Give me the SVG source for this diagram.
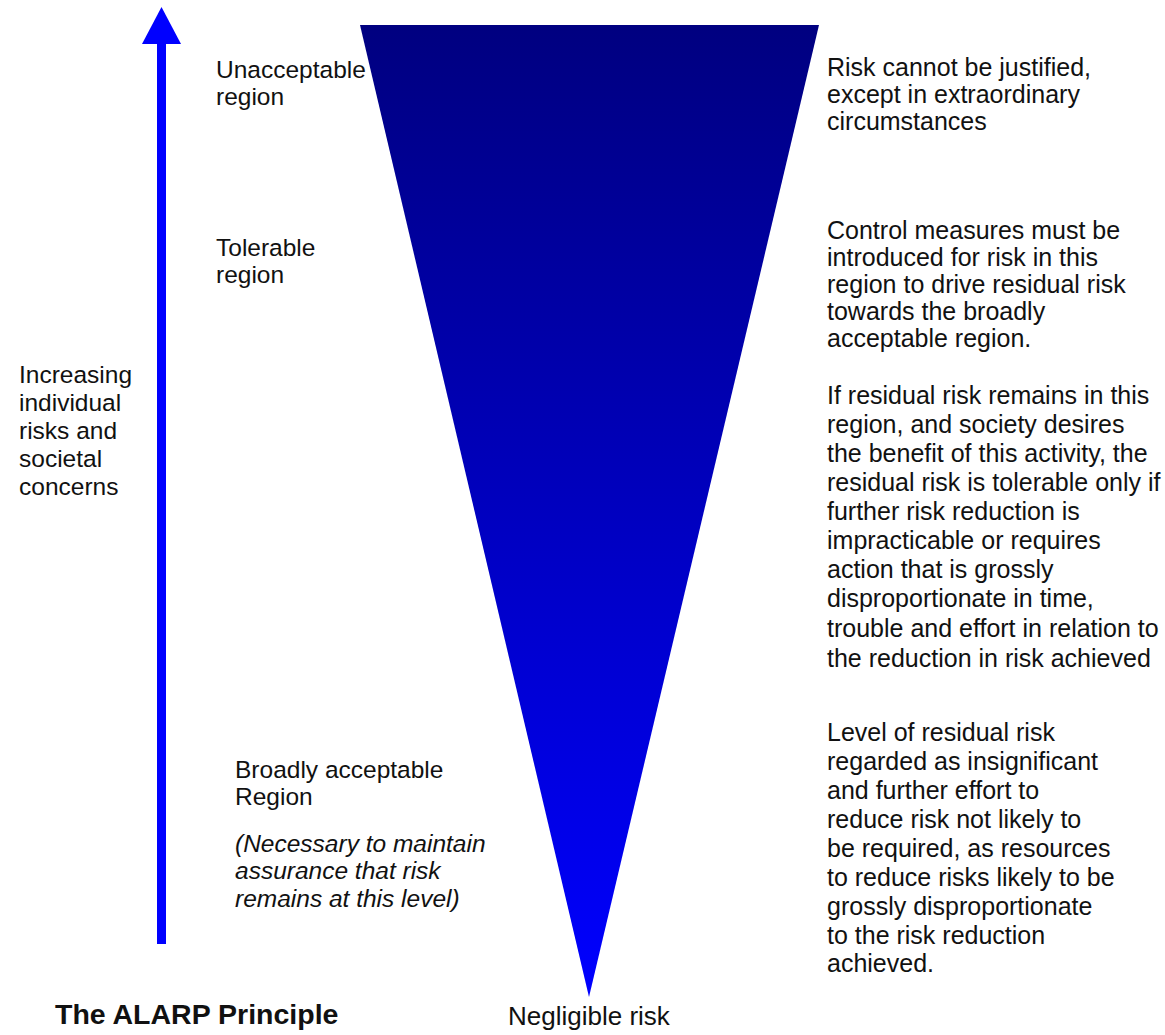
<svg xmlns="http://www.w3.org/2000/svg" width="1165" height="1035" viewBox="0 0 1165 1035">
  <style>
    text { font-family: "Liberation Sans", Arial, sans-serif; font-size: 24.5px; fill: #111; }
    .note { font-size: 25px; }
    .it { font-style: italic; }
    .foot { font-size: 26px; }
    .title { font-weight: bold; font-size: 28.5px; }
  </style>
  <defs>
    <linearGradient id="riskFill" x1="0" y1="0" x2="0" y2="1">
      <stop offset="0" stop-color="#000080"/>
      <stop offset="1" stop-color="#0000FF"/>
    </linearGradient>
  </defs>

  <!-- inverted risk triangle -->
  <g id="risk-triangle">
    <polygon points="360,25 819,25 589,997" fill="url(#riskFill)"/>
  </g>

  <!-- rising risk axis: shaft and head -->
  <g id="connectors">
    <rect x="157" y="42" width="9" height="902" fill="#0000FF"/>
    <polygon points="161.5,7 142,44 181,44" fill="#0000FF"/>
  </g>

  <g id="axis-label">
    <text x="19" y="383">Increasing</text>
    <text x="19" y="411">individual</text>
    <text x="19" y="439">risks and</text>
    <text x="19" y="467">societal</text>
    <text x="19" y="495">concerns</text>
  </g>

  <g id="unacceptable-label">
    <text x="216" y="78">Unacceptable</text>
    <text x="216" y="105">region</text>
  </g>

  <g id="tolerable-label">
    <text x="216" y="256">Tolerable</text>
    <text x="216" y="283">region</text>
  </g>

  <g id="broadly-label">
    <text x="235" y="778">Broadly acceptable</text>
    <text x="235" y="805">Region</text>
    <text class="it" x="235" y="852">(Necessary to maintain</text>
    <text class="it" x="235" y="879">assurance that risk</text>
    <text class="it" x="235" y="907">remains at this level)</text>
  </g>

  <g id="unacceptable-note" class="note">
    <text class="note" x="827" y="76">Risk cannot be justified,</text>
    <text class="note" x="827" y="103">except in extraordinary</text>
    <text class="note" x="827" y="130">circumstances</text>
  </g>

  <g id="tolerable-note">
    <text class="note" x="827" y="239">Control measures must be</text>
    <text class="note" x="827" y="266">introduced for risk in this</text>
    <text class="note" x="827" y="293">region to drive residual risk</text>
    <text class="note" x="827" y="320">towards the broadly</text>
    <text class="note" x="827" y="347">acceptable region.</text>
    <text class="note" x="827" y="404">If residual risk remains in this</text>
    <text class="note" x="827" y="433">region, and society desires</text>
    <text class="note" x="827" y="462">the benefit of this activity, the</text>
    <text class="note" x="827" y="491">residual risk is tolerable only if</text>
    <text class="note" x="827" y="520">further risk reduction is</text>
    <text class="note" x="827" y="549">impracticable or requires</text>
    <text class="note" x="827" y="578">action that is grossly</text>
    <text class="note" x="827" y="607">disproportionate in time,</text>
    <text class="note" x="827" y="637">trouble and effort in relation to</text>
    <text class="note" x="827" y="667">the reduction in risk achieved</text>
  </g>

  <g id="broadly-note">
    <text class="note" x="827" y="741">Level of residual risk</text>
    <text class="note" x="827" y="770">regarded as insignificant</text>
    <text class="note" x="827" y="799">and further effort to</text>
    <text class="note" x="827" y="828">reduce risk not likely to</text>
    <text class="note" x="827" y="857">be required, as resources</text>
    <text class="note" x="827" y="886">to reduce risks likely to be</text>
    <text class="note" x="827" y="915">grossly disproportionate</text>
    <text class="note" x="827" y="944">to the risk reduction</text>
    <text class="note" x="827" y="972">achieved.</text>
  </g>

  <g id="negligible-label">
    <text class="foot" x="508" y="1025">Negligible risk</text>
  </g>

  <g id="title">
    <text class="title" x="55" y="1024">The ALARP Principle</text>
  </g>
</svg>
